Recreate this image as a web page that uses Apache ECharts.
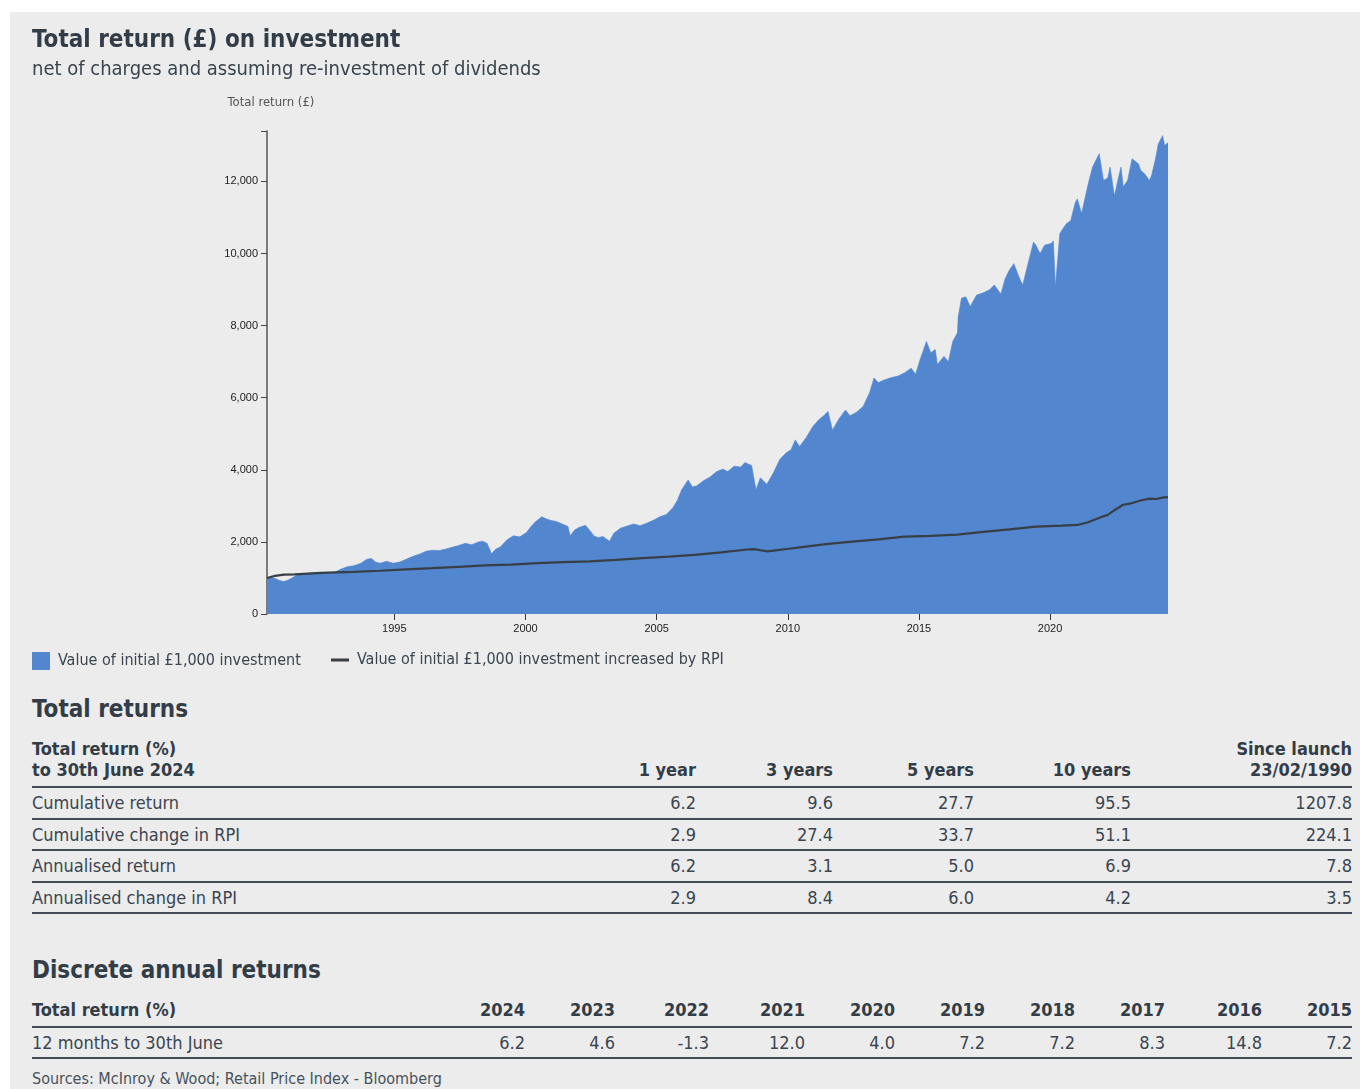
<!DOCTYPE html>
<html>
<head>
<meta charset="utf-8">
<script src="https://cdn.jsdelivr.net/npm/echarts@6/dist/echarts.min.js"></script>
<style>
  html, body { margin: 0; padding: 0; background: #ffffff; }
  body { width: 1360px; height: 1089px; position: relative; overflow: hidden;
         font-family: 'DejaVu Sans Condensed', 'DejaVu Sans', sans-serif; color: #3a4550; }
  #panel { position: absolute; left: 10px; top: 12px; width: 1350px; height: 1077px; background: #ececec; }
  #chart { position: absolute; left: 0; top: 0; width: 1360px; height: 690px; }
  .h2 { position: absolute; left: 32px; font-size: 24px; font-weight: bold; line-height: 28px; color: #333d47; white-space: nowrap; }
  .tbl { position: absolute; left: 32px; width: 1320px; }
  .row { display: flex; box-sizing: border-box; border-bottom: 2px solid #434c56; }
  .row > div { box-sizing: border-box; white-space: nowrap; }
  .hdr { font-weight: bold; font-size: 18px; line-height: 21px; color: #333d47; align-items: flex-end; }
  .body { font-size: 18px; color: #3a4550; align-items: center; }
  .r { text-align: right; }
  .src { position: absolute; left: 32px; top: 1069px; font-size: 16px; line-height: 20px; color: #47525c; white-space: nowrap; }
</style>
</head>
<body>
<div id="panel"></div>
<div id="chart"></div>

<div class="h2" style="top:695px;">Total returns</div>
<div class="tbl" id="t1" style="top:739px;"></div>

<div class="h2" style="top:956px;">Discrete annual returns</div>
<div class="tbl" id="t2" style="top:998px;"></div>

<div class="src">Sources: McInroy &amp; Wood; Retail Price Index - Bloomberg</div>

<script>
// ---------------- DATA ----------------
var fundDates = ['1990-02-23','1990-04','1990-06','1990-08','1990-10','1990-12','1991-02','1991-04','1991-06','1991-09','1991-12',
  '1992-03','1992-06','1992-09','1992-12','1993-03','1993-06','1993-09','1993-12','1994-02','1994-04','1994-06','1994-09','1994-12',
  '1995-03','1995-06','1995-09','1995-12','1996-03','1996-06','1996-09','1996-12','1997-03','1997-06','1997-09','1997-12',
  '1998-03','1998-05','1998-07','1998-09','1998-11','1999-01','1999-04','1999-07','1999-10','2000-01','2000-03','2000-05','2000-08',
  '2000-10','2000-12','2001-03','2001-06','2001-08','2001-09','2001-11','2002-01','2002-04','2002-06','2002-08','2002-10','2002-12',
  '2003-03','2003-05','2003-08','2003-11','2004-02','2004-05','2004-08','2004-11','2005-02','2005-05','2005-08','2005-10','2005-12',
  '2006-03','2006-05','2006-07','2006-10','2007-01','2007-04','2007-07','2007-09','2007-12','2008-03','2008-05','2008-08','2008-10',
  '2008-12','2009-03','2009-06','2009-09','2009-12','2010-02','2010-04','2010-06','2010-09','2010-12','2011-03','2011-05','2011-07',
  '2011-09','2011-12','2012-03','2012-05','2012-08','2012-11','2013-02','2013-04','2013-06','2013-09','2013-12','2014-03','2014-06',
  '2014-09','2014-11','2015-01','2015-04','2015-06','2015-08','2015-09','2015-12','2016-02','2016-04','2016-06-20','2016-06-30',
  '2016-08','2016-10','2016-12','2017-03','2017-06','2017-09','2017-11','2018-02','2018-04','2018-06','2018-08','2018-10','2018-12',
  '2019-02','2019-05','2019-06','2019-08','2019-10','2020-01','2020-02','2020-03','2020-05','2020-06','2020-08','2020-10','2020-12',
  '2021-01','2021-03','2021-06','2021-08','2021-11','2022-01','2022-03','2022-04','2022-06','2022-08','2022-09','2022-10','2022-12',
  '2023-02','2023-05','2023-06','2023-08','2023-10','2023-11','2024-01','2024-02','2024-04','2024-05','2024-06-30'];
var fundValues = [1000,1020,990,930,900,940,1010,1080,1110,1130,1150,
  1160,1140,1150,1240,1310,1340,1400,1520,1540,1440,1410,1460,1410,
  1440,1520,1600,1660,1740,1770,1760,1800,1850,1900,1960,1920,
  2000,2020,1960,1670,1800,1860,2050,2170,2140,2260,2420,2550,2700,
  2640,2600,2560,2480,2430,2170,2330,2400,2460,2320,2160,2120,2150,
  2020,2240,2380,2440,2500,2450,2520,2600,2700,2760,2950,3150,3450,
  3720,3520,3560,3700,3800,3950,4020,3950,4100,4080,4200,4120,3450,
  3780,3600,3920,4300,4480,4560,4830,4650,4900,5200,5400,5500,5620,
  5100,5420,5660,5500,5600,5760,6150,6550,6420,6500,6560,6600,6690,
  6820,6650,7050,7560,7250,7340,6920,7150,7000,7560,7800,8230,
  8760,8800,8530,8850,8910,9000,9130,8880,9300,9550,9720,9400,9120,
  9620,10320,10240,10000,10230,10280,10350,9080,10550,10650,10830,10920,11400,
  11520,11110,11930,12400,12770,12030,12100,12400,11600,12150,12400,11850,12030,
  12630,12490,12314,12200,12030,12170,12700,13040,13270,13000,13078];

var rpiDates = ['1990-02-23','1990-06','1990-10','1991-03','1991-09','1992-06','1993-06','1994-06','1995-06','1996-06','1997-06',
  '1998-06','1999-06','2000-06','2001-06','2002-06','2003-06','2004-06','2005-06','2006-06','2007-06','2008-06','2008-09',
  '2009-03','2009-06','2010-01','2010-06','2011-06','2012-06','2013-06','2014-06','2015-06','2016-06','2017-06','2018-06',
  '2019-06','2020-06','2021-01','2021-06','2021-12','2022-03','2022-06','2022-10','2023-01','2023-06','2023-10','2024-01',
  '2024-04','2024-06-30'];
var rpiValues = [1000,1060,1090,1100,1120,1150,1170,1200,1240,1270,1310,
  1350,1370,1410,1440,1460,1500,1550,1590,1640,1710,1790,1800,
  1740,1760,1810,1850,1940,2010,2070,2145,2165,2200,2280,2350,
  2424,2450,2470,2544,2690,2750,2880,3030,3060,3150,3200,3190,
  3230,3241];

var xTickYears = [1995, 2000, 2005, 2010, 2015, 2020];
var launchDate = '1990-02-23';
var endDate = '2024-06-30';

var seriesNames = ['Value of initial £1,000 investment', 'Value of initial £1,000 investment increased by RPI'];

var periodHeaders = ['1 year', '3 years', '5 years', '10 years', 'Since launch<br>23/02/1990'];
var rowLabels = ['Cumulative return', 'Cumulative change in RPI', 'Annualised return', 'Annualised change in RPI'];
var cumulativeReturn = ['6.2', '9.6', '27.7', '95.5', '1207.8'];
var cumulativeRPI = ['2.9', '27.4', '33.7', '51.1', '224.1'];
var annualisedReturn = ['6.2', '3.1', '5.0', '6.9', '7.8'];
var annualisedRPI = ['2.9', '8.4', '6.0', '4.2', '3.5'];

var discreteYears = ['2024', '2023', '2022', '2021', '2020', '2019', '2018', '2017', '2016', '2015'];
var discreteReturns = ['6.2', '4.6', '-1.3', '12.0', '4.0', '7.2', '7.2', '8.3', '14.8', '7.2'];

// ---------------- HELPERS ----------------
function decYear(s) {
  var p = s.split('-');
  var y = +p[0], m = +p[1], d = p.length > 2 ? +p[2] : 15;
  var t = Date.UTC(y, m - 1, d), t0 = Date.UTC(y, 0, 1), t1 = Date.UTC(y + 1, 0, 1);
  return y + (t - t0) / (t1 - t0);
}
function pairs(dates, vals) { return dates.map(function (d, i) { return [decYear(d), vals[i]]; }); }

var FONT = "'DejaVu Sans Condensed', 'DejaVu Sans', sans-serif";
var AREA = '#5286cf', LINE = '#383e45';
var legendText = { fontFamily: FONT, fontSize: 16, color: '#3a4550', padding: [0, 0, 0, 3] };
var chart = echarts.init(document.getElementById('chart'), null, { renderer: 'canvas' });
chart.setOption({
  backgroundColor: 'transparent',
  animation: false,
  title: [
    { text: 'Total return (£) on investment', left: 27, top: 24,
      textStyle: { fontFamily: FONT, fontSize: 24, fontWeight: 'bold', color: '#333d47' } },
    { text: 'net of charges and assuming re-investment of dividends', left: 27, top: 55,
      textStyle: { fontFamily: FONT, fontSize: 20, fontWeight: 'normal', color: '#3a444e' } }
  ],
  legend: [
    { left: 27, top: 647, itemWidth: 18, itemHeight: 18, textStyle: legendText, selectedMode: false,
      data: [ { name: seriesNames[0], icon: 'rect', itemStyle: { color: AREA } } ] },
    { left: 326, top: 647, itemWidth: 18, itemHeight: 3, textStyle: legendText, selectedMode: false,
      data: [ { name: seriesNames[1], icon: 'rect', itemStyle: { color: LINE } } ] }
  ],
  grid: { left: 267, top: 131, width: 901, height: 483, containLabel: false },
  xAxis: {
    type: 'value', min: decYear(launchDate), max: decYear(endDate),
    axisLine: { show: false },
    axisTick: { show: true, length: 6, customValues: xTickYears, lineStyle: { color: '#333', width: 1 } },
    axisLabel: { customValues: xTickYears, formatter: function (v) { return String(Math.round(v)); },
      fontFamily: 'Liberation Sans, Arial, sans-serif', fontSize: 11, color: '#222', margin: 9 },
    splitLine: { show: false }
  },
  yAxis: {
    type: 'value', min: 0, max: 13400, interval: 2000,
    name: 'Total return (£)', nameLocation: 'end', nameGap: 22,
    nameTextStyle: { fontFamily: FONT, fontSize: 13, color: '#555', align: 'center', padding: [0, 0, 0, 8] },
    axisLine: { show: true, lineStyle: { color: '#555', width: 1.5 } },
    axisTick: { show: true, length: 6, lineStyle: { color: '#444', width: 1 } },
    axisLabel: { fontFamily: 'Liberation Sans, Arial, sans-serif', fontSize: 11, color: '#222', margin: 9,
      formatter: function (v) { return (v % 2000 === 0) ? v.toLocaleString('en-US') : ''; } },
    splitLine: { show: false }
  },
  series: [
    { name: seriesNames[0], type: 'line', data: pairs(fundDates, fundValues), symbol: 'none',
      itemStyle: { color: AREA }, lineStyle: { width: 0.6, color: AREA },
      areaStyle: { color: AREA, opacity: 1 }, z: 2 },
    { name: seriesNames[1], type: 'line', data: pairs(rpiDates, rpiValues), symbol: 'none',
      itemStyle: { color: LINE }, lineStyle: { width: 2.2, color: LINE }, z: 3 }
  ]
});

// ---------------- TABLES ----------------
function buildTable(el, widths, hdrCells, hdrHeight, rows, rowHeight) {
  var html = '<div class="row hdr" style="height:' + hdrHeight + 'px;">';
  hdrCells.forEach(function (c, i) {
    html += '<div class="' + (i ? 'r' : '') + '" style="width:' + widths[i] + 'px;padding-bottom:6px;">' + c + '</div>';
  });
  html += '</div>';
  rows.forEach(function (r) {
    html += '<div class="row body" style="height:' + rowHeight + 'px;">';
    r.forEach(function (c, i) {
      html += '<div class="' + (i ? 'r' : '') + '" style="width:' + widths[i] + 'px;">' + c + '</div>';
    });
    html += '</div>';
  });
  el.innerHTML = html;
}
buildTable(document.getElementById('t1'), [527, 137, 137, 141, 157, 221],
  ['Total return (%)<br>to 30th June 2024'].concat(periodHeaders), 49,
  [[rowLabels[0]].concat(cumulativeReturn), [rowLabels[1]].concat(cumulativeRPI),
   [rowLabels[2]].concat(annualisedReturn), [rowLabels[3]].concat(annualisedRPI)], 31.5);
buildTable(document.getElementById('t2'), [403, 90, 90, 94, 96, 90, 90, 90, 90, 97, 90],
  ['Total return (%)'].concat(discreteYears), 30,
  [['12 months to 30th June'].concat(discreteReturns)], 31);
</script>
</body>
</html>
